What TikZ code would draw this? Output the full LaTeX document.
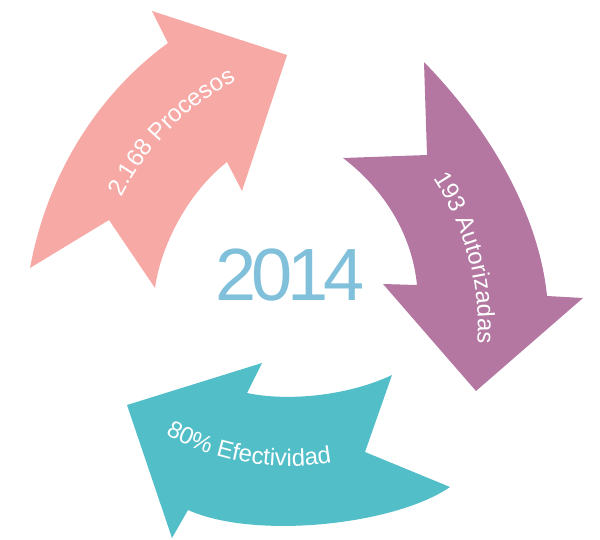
\documentclass[tikz,border=0pt]{standalone}
\usepackage{fontspec}
\setmainfont{Liberation Sans}
\usetikzlibrary{decorations.text}
\definecolor{pinkA}{HTML}{F7A9A6}
\definecolor{purpleA}{HTML}{B377A2}
\definecolor{tealA}{HTML}{52BEC7}
\definecolor{yearblue}{HTML}{80C0DA}
\newcommand\labfont{\fontsize{24}{24}\selectfont\color{white}}
\tikzset{
  arrowshape/.style={draw=none},
  curvedlabel/.style={decorate, decoration={text along path, text align=center, text={#1}}}
}
\begin{document}
\begin{tikzpicture}[x=1pt,y=-1pt]
\useasboundingbox (0,0) rectangle (600,539);
% pink arrow
\fill[pinkA,arrowshape] (30,268) -- (109,220) -- (155,288)
  .. controls (160,250) and (185,195) .. (227,162) -- (242,191) -- (287,55)
  -- (152,11) -- (168,43) .. controls (110,85) and (50,160) .. (30,268) -- cycle;
% purple arrow
\fill[purpleA,arrowshape] (424,62) -- (427,155) -- (343,158)
  .. controls (385,190) and (412,235) .. (417,285) -- (383,284) -- (476,391)
  -- (583,298) -- (547,296) .. controls (540,225) and (500,140) .. (424,62) -- cycle;
% teal arrow
\fill[tealA,arrowshape] (392,375) -- (365,452) -- (450,487)
  .. controls (395,525) and (255,540) .. (188,510) -- (172,538) -- (127,405)
  -- (262,363) -- (247,393) .. controls (290,402) and (350,395) .. (392,375) -- cycle;
% labels
\path[curvedlabel={|\labfont|2.168 Procesos}] (102,249) .. controls (126,158) and (197,86) .. (287,60);
\path[curvedlabel={|\labfont|193 Autorizadas}] (390,129) .. controls (468,199) and (497,308) .. (465,408);
\path[curvedlabel={|\labfont|80{\%} Efectividad}] (117,399) .. controls (190,467) and (298,485) .. (389,445);
\node[text=yearblue, inner sep=0pt] (year) at (290,275) {\fontsize{74}{74}\selectfont 2\kern-5pt 0\kern-5pt 1\kern-5pt 4};
\end{tikzpicture}
\end{document}
